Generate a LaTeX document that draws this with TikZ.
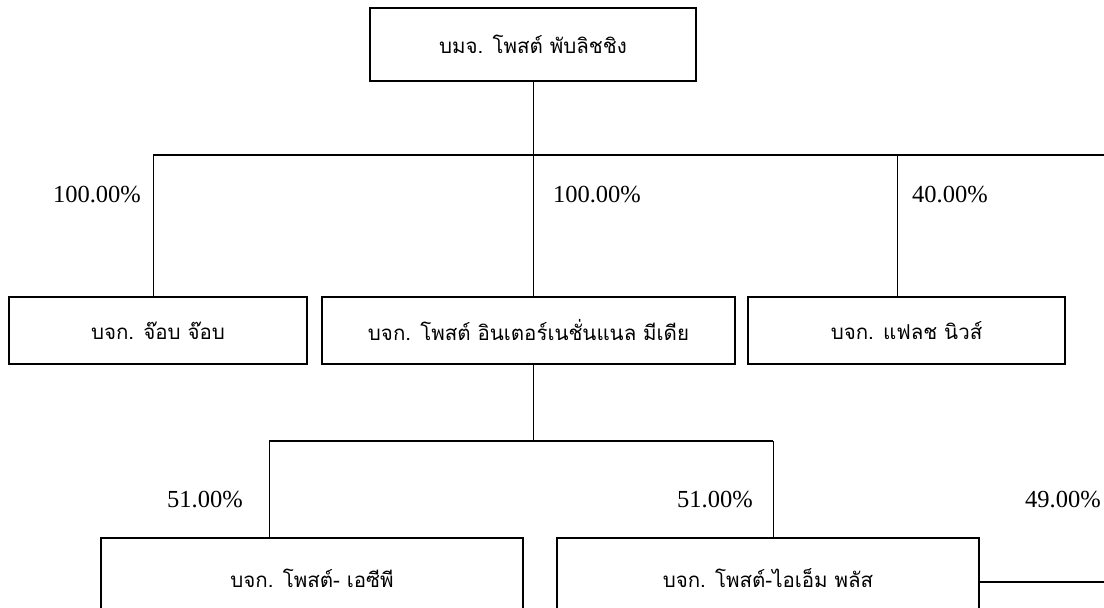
\documentclass[tikz,border=0pt]{standalone}
\usepackage{fontspec}
\setmainfont{Liberation Serif}
\newfontfamily\thaifont[Script=Thai]{Loma}
\begin{document}
\begin{tikzpicture}[x=1pt,y=-1pt,
  orgbox/.style={draw, line width=1.3pt, inner sep=0pt, font=\thaifont\fontsize{20.5}{24}\selectfont},
  link/.style={line width=0.8pt},
  pct/.style={font=\fontsize{24.5}{28}\selectfont, inner sep=0pt}]
\useasboundingbox (0,0) rectangle (1104,608);
\clip (0,0) rectangle (1104,608);
% nodes
\node[orgbox, minimum width=326pt, minimum height=73pt] (top) at (533,44.5) {บมจ. โพสต์ พับลิชชิง};
\node[orgbox, minimum width=298pt, minimum height=67pt] (b1) at (158,330.5) {บจก. จ๊อบ จ๊อบ};
\node[orgbox, minimum width=413pt, minimum height=67pt] (b2) at (528.5,330.5) {บจก. โพสต์ อินเตอร์เนชั่นแนล มีเดีย};
\node[orgbox, minimum width=317pt, minimum height=67pt] (b3) at (906.5,330.5) {บจก. แฟลช นิวส์};
\node[orgbox, minimum width=422pt, minimum height=80pt] (b4) at (312,578) {บจก. โพสต์- เอซีพี};
\node[orgbox, minimum width=422pt, minimum height=80pt] (b5) at (768,578) {บจก. โพสต์-ไอเอ็ม พลัส};
% junction coordinates
\coordinate (busL) at (153,155);
\coordinate (busM) at (533,155);
\coordinate (busR) at (897,155);
\coordinate (busE) at (1104,155);
\coordinate (bus2) at (533,441);
\coordinate (bus2L) at (269,441);
\coordinate (bus2R) at (773,441);
\coordinate (edge5) at (1104,582);
% connectors
\draw[link] (top.south) -- (busM);
\draw[line width=1.3pt] (busL) -- (busE);
\draw[link] (busL) -- (busL |- b1.north);
\draw[link] (busM) -- (busM |- b2.north);
\draw[link] (busR) -- (busR |- b3.north);
\draw[link] (b2.south -| bus2) -- (bus2);
\draw[line width=1.3pt] (bus2L) -- (bus2R);
\draw[link] (bus2L) -- (bus2L |- b4.north);
\draw[link] (bus2R) -- (bus2R |- b5.north);
\draw[line width=1.3pt] (b5.east |- edge5) -- (edge5);
% labels
\node[pct] (p1) at (97,195) {100.00\%};
\node[pct] (p2) at (597,195) {100.00\%};
\node[pct] (p3) at (950,195) {40.00\%};
\node[pct] (p4) at (205,500) {51.00\%};
\node[pct] (p5) at (715,500) {51.00\%};
\node[pct] (p6) at (1063,500) {49.00\%};
\end{tikzpicture}
\end{document}
